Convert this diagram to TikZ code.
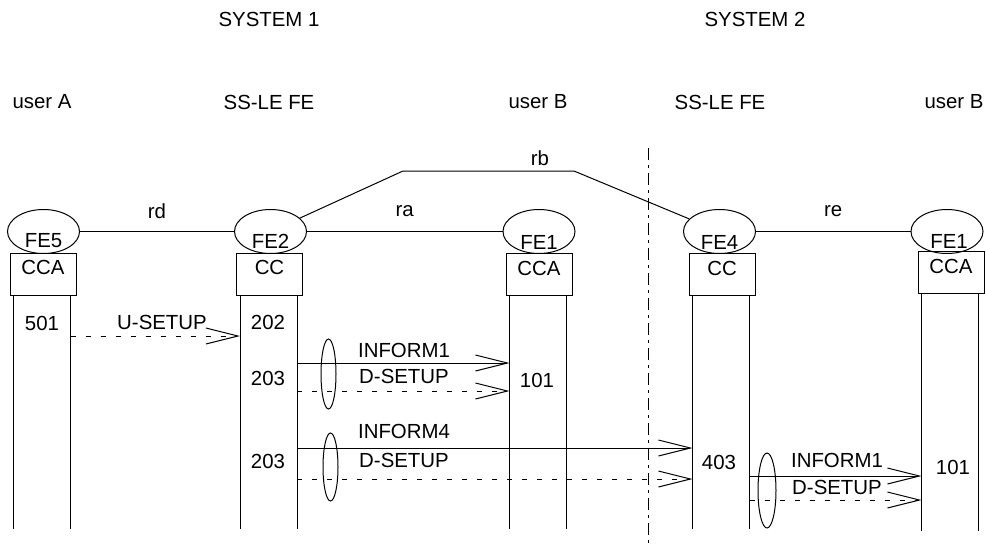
\documentclass[tikz,border=0pt]{standalone}
\usepackage{fontspec}
\setmainfont{Liberation Sans}
\usetikzlibrary{arrows.meta,shapes.geometric}

\begin{document}
\begin{tikzpicture}[x=0.5pt,y=-0.5pt,line width=0.5pt,font=\fontsize{10.2}{12}\selectfont,
fe/.style={draw, ellipse, minimum width=36pt, minimum height=22pt, inner sep=0pt},
fu/.style={draw, minimum width=33pt, minimum height=21pt, inner sep=0pt},
grp/.style={draw, ellipse, minimum width=7.5pt, inner sep=0pt},
msg/.style={-{Straight Barb[length=16pt,width=8pt]}},
dmsg/.style={msg, dash pattern=on 2.5pt off 5pt},
sep/.style={dash pattern=on 6pt off 2.5pt on 1.5pt off 2.5pt}]
\useasboundingbox (0,0) rectangle (986,547);
% headings
\node (sys1) at (269,19) {SYSTEM 1}; \node (sys2) at (755,19) {SYSTEM 2};
\node (usrA) at (42,102) {user A}; \node (le1) at (269,102) {SS-LE FE}; \node (usrB1) at (538,102) {user B};
\node (le2) at (720,102) {SS-LE FE}; \node (usrB2) at (954,102) {user B};
% functional entities
\node[fe] (fe5) at (43.5,231.5) {}; \node (fe5t) at (43.5,241) {FE5};
\node[fe] (fe2) at (270.5,231.5) {}; \node (fe2t) at (270.5,241) {FE2};
\node[fe] (fe1) at (539,231.5) {}; \node (fe1t) at (539,242) {FE1};
\node[fe] (fe4) at (719.5,231.5) {}; \node (fe4t) at (719.5,242) {FE4};
\node[fe] (fe1b) at (947,231.5) {}; \node (fe1bt) at (949,241) {FE1};
\node[fu] (cca5) at (43,274) {}; \node (cca5t) at (43,267) {CCA};
\node[fu] (cc2) at (269.5,274) {}; \node (cc2t) at (269.5,267) {CC};
\node[fu] (cca1) at (539,274.5) {}; \node (cca1t) at (539,268) {CCA};
\node[fu] (cc4) at (722,274.5) {}; \node (cc4t) at (722,268) {CC};
\node[fu] (cca1b) at (951,272) {}; \node (cca1bt) at (951,266) {CCA};
% relationships
\coordinate (rbL) at (403,171); \coordinate (rbR) at (574,171);
\draw (fe5) -- (fe2) node[pos=0.5, yshift=10pt] (rd) {rd};
\draw (fe2) -- (fe1) node[pos=0.5, yshift=10pt] (ra) {ra};
\draw (fe4) -- (fe1b) node[pos=0.5, yshift=10pt] (re) {re};
\draw (fe2) -- (rbL) -- (rbR) -- (fe4); \node (rb) at (540,158) {rb};
% lifelines
\coordinate (L5) at ([xshift=2pt]cca5.south west); \coordinate (R5) at ([xshift=-3pt]cca5.south east);
\coordinate (L2) at ([xshift=2pt]cc2.south west); \coordinate (R2) at ([xshift=-3pt]cc2.south east);
\coordinate (L1) at ([xshift=2pt]cca1.south west); \coordinate (R1) at ([xshift=-3pt]cca1.south east);
\coordinate (L4) at ([xshift=2pt]cc4.south west); \coordinate (R4) at ([xshift=-3pt]cc4.south east);
\coordinate (L1b) at ([xshift=2pt]cca1b.south west); \coordinate (R1b) at ([xshift=-3pt]cca1b.south east);
\foreach \l in {L5,R5,L2,R2,L1,R1,L4,R4} \draw (\l) -- ++(0,233);
\draw (L1b) -- ++(0,237); \draw (R1b) -- ++(0,237);
\coordinate (sepT) at (648,148); \coordinate (sepB) at (648,547); \draw[sep] (sepT) -- (sepB);
% states
\node (s501) at (42,323) {501}; \node (s202) at (268,322) {202}; \node (s203a) at (268,378) {203};
\node (s101a) at (537,380) {101}; \node (s203b) at (268,461) {203}; \node (s403) at (719,462) {403};
\node (s101b) at (953,467) {101};
% messages
\coordinate (y1) at (0,336); \coordinate (y2) at (0,363); \coordinate (y3) at (0,391);
\coordinate (y4) at (0,448); \coordinate (y5) at (0,479); \coordinate (y6) at (0,476); \coordinate (y7) at (0,500);
\draw[dmsg] (R5 |- y1) -- (L2 |- y1); \node (usetup) at (162,322) {U-SETUP};
\draw[msg] (R2 |- y2) -- (L1 |- y2); \node (inf1a) at (404,350) {INFORM1};
\draw[dmsg] (R2 |- y3) -- (L1 |- y3); \node (dset1) at (404,376) {D-SETUP};
\draw[msg] (R2 |- y4) -- (L4 |- y4); \node (inf4) at (404,431) {INFORM4};
\draw[dmsg] (R2 |- y5) -- (L4 |- y5); \node (dset2) at (404,460) {D-SETUP};
\draw[msg] (R4 |- y6) -- (L1b |- y6); \node (inf1b) at (837,460) {INFORM1};
\draw[dmsg] (R4 |- y7) -- (L1b |- y7); \node (dset3) at (837,487) {D-SETUP};
\node[grp, minimum height=35pt] (g1) at (328.5,374) {};
\node[grp, minimum height=34pt] (g2) at (330.5,467) {};
\node[grp, minimum width=9pt, minimum height=37.5pt] (g3) at (767,490.5) {};
\end{tikzpicture}
\end{document}
